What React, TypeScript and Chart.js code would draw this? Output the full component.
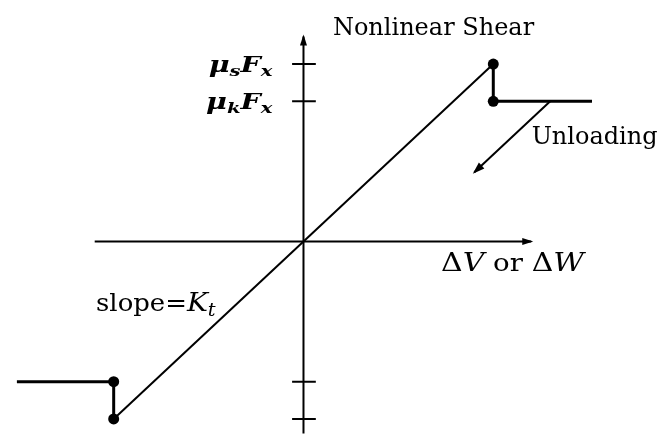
import { useEffect, useRef } from "react";
import { Chart, registerables } from "chart.js";

Chart.register(...registerables);

// Friction shear law in normalised units: displacement / slip displacement,
// force / static friction force.
const loadingX = [-1, 1];
const loadingY = [-1, 1];
const slipUpperX = [1, 1, 1.52];
const slipUpperY = [1, 0.79, 0.79];
const slipLowerX = [-1, -1, -1.51];
const slipLowerY = [-1, -0.79, -0.79];
const slipPointX = [1, 1, -1, -1];
const slipPointY = [1, 0.79, -1, -0.79];
const unloadX = [1.3, 0.9];
const unloadY = [0.79, 0.39];
const horizAxisX = [-1.1, 1.2];
const vertAxisY = [-1.12, 1.155];
const forceTicks = [1, 0.79, -0.79, -1];
// Each tick label is base, subscript, base, subscript
const forceTickLabels: (string[] | null)[] = [
  ["μ", "s", "F", "x"],
  ["μ", "k", "F", "x"],
  null,
  null,
];

const SERIF = '"DejaVu Serif", "Liberation Serif", serif';

type Part = { t: string; font: string; dy?: number };

// Draws a run of differently styled pieces, optionally stretched horizontally.
function drawRich(
  ctx: CanvasRenderingContext2D,
  x: number,
  y: number,
  parts: Part[],
  align: "left" | "right" = "left",
  stretch = 1
) {
  let total = 0;
  for (const p of parts) {
    ctx.font = p.font;
    total += ctx.measureText(p.t).width;
  }
  const x0 = align === "right" ? x - total * stretch : x;
  ctx.save();
  ctx.translate(x0, y);
  ctx.scale(stretch, 1);
  let cx = 0;
  for (const p of parts) {
    ctx.font = p.font;
    ctx.fillText(p.t, cx, p.dy || 0);
    cx += ctx.measureText(p.t).width;
  }
  ctx.restore();
}

const pts = (xs: number[], ys: number[]) => xs.map((x, i) => ({ x, y: ys[i] }));

const lineSet = (data: { x: number; y: number }[], width: number) => ({
  data,
  showLine: true,
  borderColor: "#000",
  backgroundColor: "#000",
  borderWidth: width,
  pointRadius: 0,
  borderCapStyle: "butt" as const,
  borderJoinStyle: "miter" as const,
  tension: 0,
});

const decorations = {
  id: "decorations",
  afterDatasetsDraw(chart: Chart) {
    const { ctx } = chart;
    const sx = chart.scales.x;
    const sy = chart.scales.y;
    const px = (v: number) => sx.getPixelForValue(v);
    const py = (v: number) => sy.getPixelForValue(v);

    ctx.save();
    ctx.fillStyle = "#000";

    // arrow heads at the ends of the axes and the unloading path
    const arrow = (x0: number, y0: number, x1: number, y1: number, len: number, half: number) => {
      const ax = px(x1), ay = py(y1);
      const dx = ax - px(x0), dy = ay - py(y0);
      const d = Math.hypot(dx, dy);
      const ux = dx / d, uy = dy / d;
      ctx.beginPath();
      ctx.moveTo(ax + ux * 2, ay + uy * 2);
      ctx.lineTo(ax - ux * len - uy * half, ay - uy * len + ux * half);
      ctx.lineTo(ax - ux * len + uy * half, ay - uy * len - ux * half);
      ctx.closePath();
      ctx.fill();
    };
    arrow(horizAxisX[0], 0, horizAxisX[1], 0, 9, 3.5);
    arrow(0, vertAxisY[0], 0, vertAxisY[1], 9, 3.5);
    arrow(unloadX[0], unloadY[0], unloadX[1], unloadY[1], 10, 4);

    ctx.textBaseline = "alphabetic";
    const roman = `24px ${SERIF}`;
    const mathRoman = `26px ${SERIF}`;
    const ital = `italic 26px ${SERIF}`;
    const boldItal = `bold italic 22px ${SERIF}`;
    const subBold = `bold italic 15px ${SERIF}`;
    const sub = `italic 18px ${SERIF}`;

    // tick labels left of the force axis
    forceTicks.forEach((v, i) => {
      const lab = forceTickLabels[i];
      if (!lab) return;
      drawRich(
        ctx,
        px(0) - 31,
        py(v) + 8,
        [
          { t: lab[0], font: boldItal },
          { t: lab[1], font: subBold, dy: 4 },
          { t: lab[2], font: boldItal },
          { t: lab[3], font: subBold, dy: 4 },
        ],
        "right",
        1.3
      );
    });

    drawRich(ctx, px(0.155), py(1.165), [{ t: "Nonlinear Shear", font: roman }]);
    drawRich(ctx, px(1.202), py(0.549), [{ t: "Unloading", font: roman }]);
    drawRich(
      ctx,
      px(0.725),
      py(-0.165),
      [
        { t: "Δ", font: mathRoman },
        { t: "V", font: ital },
        { t: " or ", font: roman },
        { t: "Δ", font: mathRoman },
        { t: "W", font: ital },
      ],
      "left",
      1.15
    );
    drawRich(
      ctx,
      px(-1.093),
      py(-0.39),
      [
        { t: "slope=", font: roman },
        { t: "K", font: ital },
        { t: "t", font: sub, dy: 5 },
      ],
      "left",
      1.08
    );
    ctx.restore();
  },
};

export default function App() {
  const ref = useRef<HTMLCanvasElement | null>(null);

  useEffect(() => {
    const canvas = ref.current;
    if (!canvas) return;
    const datasets: any[] = [
      lineSet(pts(horizAxisX, [0, 0]), 2),
      lineSet(pts([0, 0], vertAxisY), 2),
      ...forceTicks.map((v) => lineSet(pts([-0.06, 0.065], [v, v]), 2)),
      lineSet(pts(loadingX, loadingY), 2),
      lineSet(pts(slipUpperX, slipUpperY), 3),
      lineSet(pts(slipLowerX, slipLowerY), 3),
      lineSet(pts(unloadX, unloadY), 2),
      {
        data: pts(slipPointX, slipPointY),
        showLine: false,
        pointRadius: 5.5,
        pointBackgroundColor: "#000",
        pointBorderColor: "#000",
        pointBorderWidth: 0,
      },
    ];
    const chart = new Chart(canvas, {
      type: "scatter",
      data: { datasets },
      options: {
        responsive: false,
        animation: false,
        events: [],
        layout: { padding: 0 },
        plugins: { legend: { display: false }, tooltip: { enabled: false } },
        scales: {
          x: { type: "linear", min: -1.57, max: 1.881, display: false },
          y: { type: "linear", min: -1.082, max: 1.33, display: false },
        },
      },
      plugins: [decorations],
    });
    return () => chart.destroy();
  }, []);

  return (
    <div style={{ position: "absolute", left: 0, top: 0, width: 666, height: 439, background: "#fff" }}>
      <canvas ref={ref} width={666} height={439} style={{ display: "block" }} />
    </div>
  );
}
